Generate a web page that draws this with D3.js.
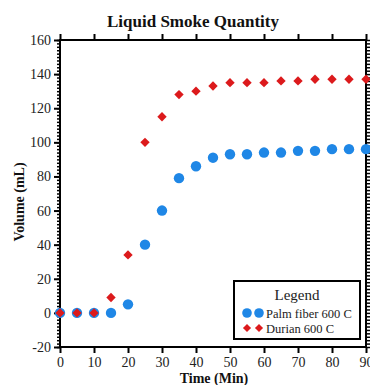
<!DOCTYPE html>
<html>
<head>
<meta charset="utf-8">
<script src="https://cdn.jsdelivr.net/npm/d3@7"></script>
<style>
  body { margin: 0; background: #fff; }
</style>
</head>
<body>
<svg width="370" height="385"></svg>
<script>
// time in minutes
const times = [0, 5, 10, 15, 20, 25, 30, 35, 40, 45, 50, 55, 60, 65, 70, 75, 80, 85, 90]
const palmFiber = [0, 0, 0, 0, 5, 40, 60, 79, 86, 91, 93, 93, 94, 94, 95, 95, 96, 96, 96]
const durian = [0, 0, 0, 9, 34, 100, 115, 128, 130, 133, 135, 135, 135, 136, 136, 137, 137, 137, 137]
const seriesNames = ['Palm fiber 600 C', 'Durian 600 C']
const xTicks = [0, 10, 20, 30, 40, 50, 60, 70, 80, 90]
const yTicks = [-20, 0, 20, 40, 60, 80, 100, 120, 140, 160]

const blue = '#1f87e6'
const red = '#dc1a1c'
const serif = "'Liberation Serif', 'Times New Roman', 'DejaVu Serif', serif"

const svg = d3.select('svg')

const x = d3.scaleLinear().domain([0, 90]).range([60, 366])
const y = d3.scaleLinear().domain([-20, 160]).range([347, 40])

const g = svg.append('g')

// minor ticks every 2 units on y
const yMinor = d3.range(-20, 161, 2)

// left axis
g.append('g')
  .attr('transform', 'translate(' + x(0) + ',0)')
  .call(d3.axisLeft(y).tickValues(yMinor).tickSize(3).tickFormat(''))
  .call(s => s.select('.domain').remove())
  .call(s => s.selectAll('line').attr('stroke-width', 1.5))
g.append('g')
  .attr('transform', 'translate(' + x(0) + ',0)')
  .call(d3.axisLeft(y).tickValues(yTicks).tickSize(6).tickPadding(3).tickFormat(d => String(d)))
  .call(s => s.select('.domain').remove())
  .call(s => s.selectAll('line').attr('stroke-width', 2))
  .call(s => s.selectAll('text').style('font-size', '14px').attr('fill', '#222'))

// right axis
g.append('g')
  .attr('transform', 'translate(' + x(90) + ',0)')
  .call(d3.axisRight(y).tickValues(yMinor).tickSize(4).tickFormat(''))
  .call(s => s.select('.domain').remove())
  .call(s => s.selectAll('line').attr('stroke-width', 1.5))

// bottom axis
g.append('g')
  .attr('transform', 'translate(0,' + y(-20) + ')')
  .call(d3.axisBottom(x).tickValues(xTicks).tickSize(6).tickPadding(4).tickFormat(d => String(d)))
  .call(s => s.select('.domain').remove())
  .call(s => s.selectAll('line').attr('stroke-width', 2))
  .call(s => s.selectAll('text').style('font-size', '14px').attr('fill', '#222'))

// top axis
g.append('g')
  .attr('transform', 'translate(0,' + y(160) + ')')
  .call(d3.axisTop(x).tickValues(xTicks).tickSize(6).tickFormat(''))
  .call(s => s.select('.domain').remove())
  .call(s => s.selectAll('line').attr('stroke-width', 2))

// frame
g.append('rect')
  .attr('x', x(0)).attr('y', y(160))
  .attr('width', x(90) - x(0)).attr('height', y(-20) - y(160))
  .attr('fill', 'none').attr('stroke', '#000').attr('stroke-width', 2)

// series
const diamond = d3.symbol().type(d3.symbolDiamond2).size(56)

g.append('g').selectAll('circle')
  .data(times.map((t, i) => [t, palmFiber[i]]))
  .enter().append('circle')
  .attr('cx', d => x(d[0]))
  .attr('cy', d => y(d[1]))
  .attr('r', 5.2)
  .attr('fill', blue)

g.append('g').selectAll('path')
  .data(times.map((t, i) => [t, durian[i]]))
  .enter().append('path')
  .attr('d', diamond)
  .attr('transform', d => 'translate(' + x(d[0]) + ',' + y(d[1]) + ')')
  .attr('fill', red)

// title + axis labels
svg.append('text')
  .attr('x', 193).attr('y', 27)
  .attr('text-anchor', 'middle')
  .style('font-size', '17px').style('font-weight', 'bold')
  .attr('fill', '#111')
  .text('Liquid Smoke Quantity')

svg.append('text')
  .attr('x', 214).attr('y', 383)
  .attr('text-anchor', 'middle')
  .style('font-size', '14px').style('font-weight', 'bold')
  .attr('fill', '#111')
  .text('Time (Min)')

svg.append('text')
  .attr('transform', 'translate(24,202) rotate(-90)')
  .attr('text-anchor', 'middle')
  .style('font-size', '14px').style('font-weight', 'bold')
  .attr('fill', '#111')
  .text('Volume (mL)')

// legend
const lg = svg.append('g').attr('transform', 'translate(234,281)')
lg.append('rect')
  .attr('width', 126).attr('height', 58)
  .attr('fill', '#fff').attr('stroke', '#000').attr('stroke-width', 2)
lg.append('text')
  .attr('x', 63).attr('y', 19)
  .attr('text-anchor', 'middle')
  .style('font-size', '15px')
  .attr('fill', '#222')
  .text('Legend')

const entries = lg.selectAll('g.entry')
  .data(seriesNames)
  .enter().append('g')
  .attr('class', 'entry')
  .attr('transform', (d, i) => 'translate(0,' + (32 + i * 15) + ')')

entries.each(function (d, i) {
  const e = d3.select(this)
  ;[13, 25].forEach(cx => {
    if (i === 0) {
      e.append('circle').attr('cx', cx).attr('cy', 0).attr('r', 4.8).attr('fill', blue)
    } else {
      e.append('path').attr('d', d3.symbol().type(d3.symbolDiamond2).size(42))
        .attr('transform', 'translate(' + cx + ',0)').attr('fill', red)
    }
  })
  e.append('text')
    .attr('x', 32).attr('y', 4.5)
    .style('font-size', '12.5px')
    .attr('fill', '#222')
    .text(d)
})

// serif everywhere
svg.selectAll('text').style('font-family', serif)
</script>
</body>
</html>
